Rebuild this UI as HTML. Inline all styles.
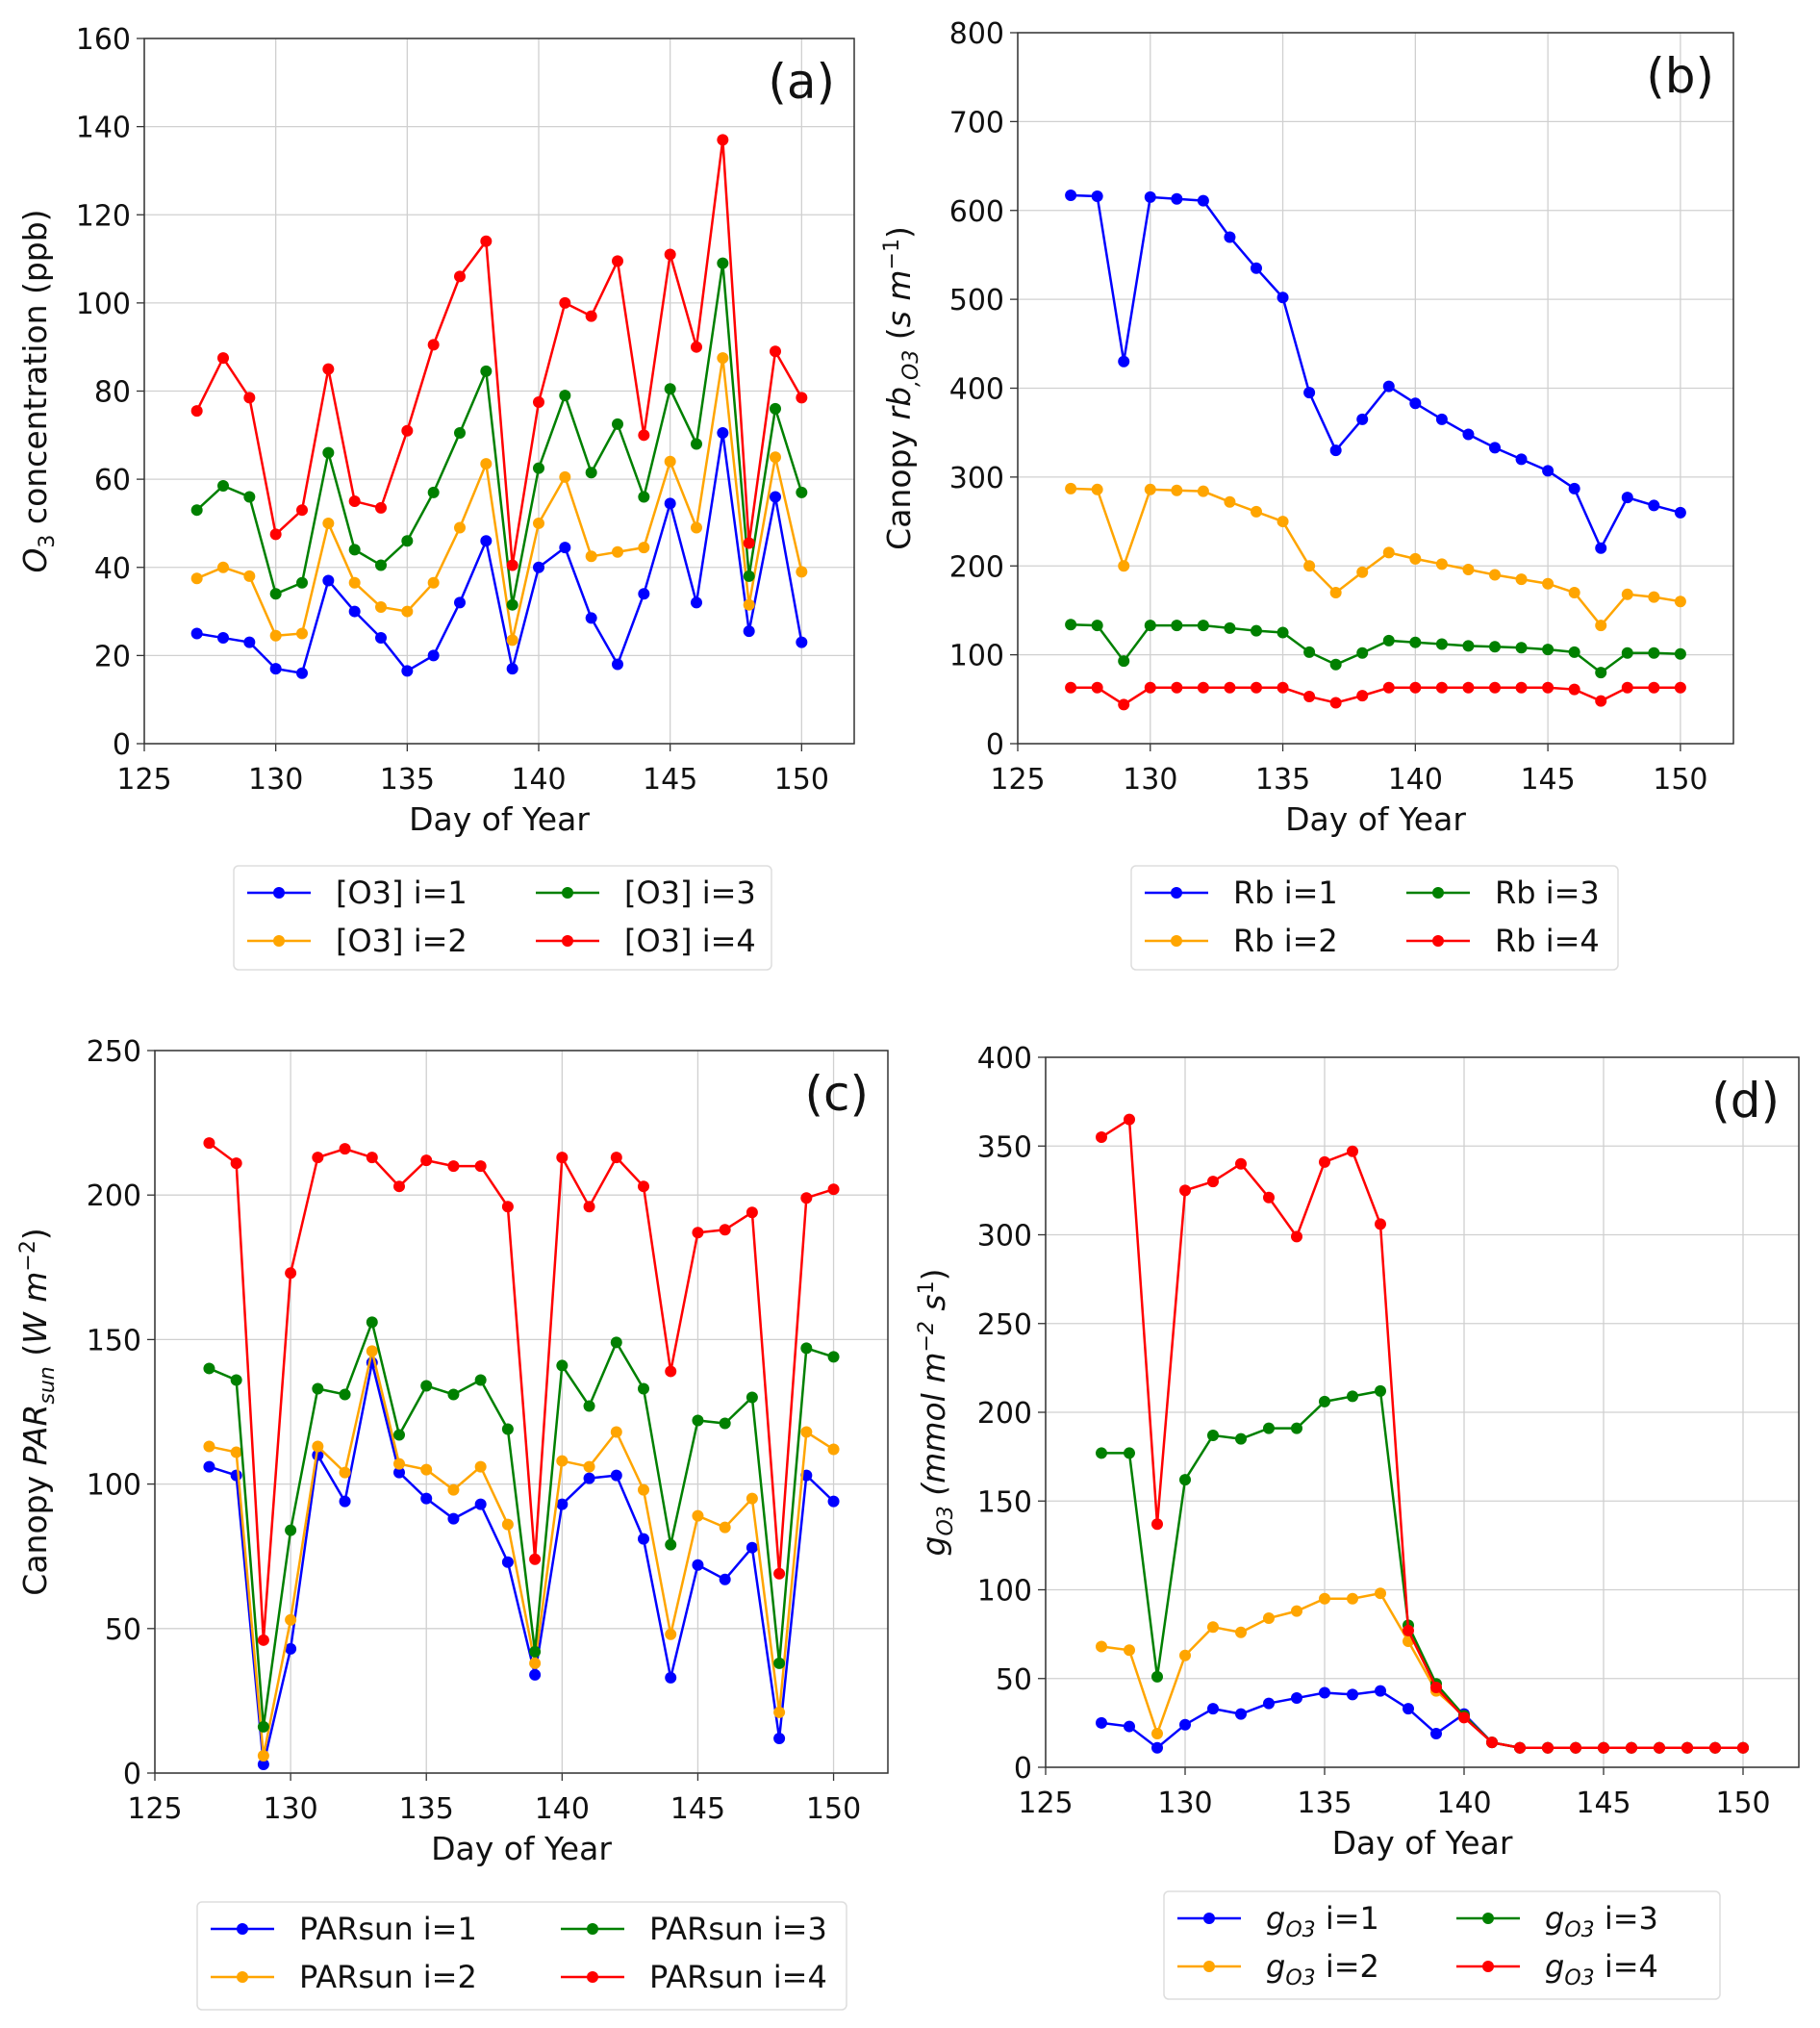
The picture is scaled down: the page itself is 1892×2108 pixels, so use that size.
<!DOCTYPE html>
<html><head><meta charset="utf-8">
<style>
html,body{margin:0;padding:0;background:#fff;}
svg{display:block;font-family:"DejaVu Sans","Liberation Sans",sans-serif;}
</style></head>
<body>
<svg id="fig" width="1892" height="2108" viewBox="0 0 1892 2108" xmlns="http://www.w3.org/2000/svg"></svg>
<script>
const days = [127,128,129,130,131,132,133,134,135,136,137,138,139,140,141,142,143,144,145,146,147,148,149,150];
const xTicks = [125,130,135,140,145,150];
const seriesColors = ['#0000ff','#ffa500','#008000','#ff0000'];

const o3_i1 = [25,24,23,17,16,37,30,24,16.5,20,32,46,17,40,44.5,28.5,18,34,54.5,32,70.5,25.5,56,23];
const o3_i2 = [37.5,40,38,24.5,25,50,36.5,31,30,36.5,49,63.5,23.5,50,60.5,42.5,43.5,44.5,64,49,87.5,31.5,65,39];
const o3_i3 = [53,58.5,56,34,36.5,66,44,40.5,46,57,70.5,84.5,31.5,62.5,79,61.5,72.5,56,80.5,68,109,38,76,57];
const o3_i4 = [75.5,87.5,78.5,47.5,53,85,55,53.5,71,90.5,106,114,40.5,77.5,100,97,109.5,70,111,90,137,45.5,89,78.5];
const o3Ticks = [0,20,40,60,80,100,120,140,160];

const rb_i1 = [617,616,430,615,613,611,570,535,502,395,330,365,402,383,365,348,333,320,307,287,220,277,268,260];
const rb_i2 = [287,286,200,286,285,284,272,261,250,200,170,193,215,208,202,196,190,185,180,170,133,168,165,160];
const rb_i3 = [134,133,93,133,133,133,130,127,125,103,89,102,116,114,112,110,109,108,106,103,80,102,102,101];
const rb_i4 = [63,63,44,63,63,63,63,63,63,53,46,54,63,63,63,63,63,63,63,61,48,63,63,63];
const rbTicks = [0,100,200,300,400,500,600,700,800];

const par_i1 = [106,103,3,43,110,94,142,104,95,88,93,73,34,93,102,103,81,33,72,67,78,12,103,94];
const par_i2 = [113,111,6,53,113,104,146,107,105,98,106,86,38,108,106,118,98,48,89,85,95,21,118,112];
const par_i3 = [140,136,16,84,133,131,156,117,134,131,136,119,42,141,127,149,133,79,122,121,130,38,147,144];
const par_i4 = [218,211,46,173,213,216,213,203,212,210,210,196,74,213,196,213,203,139,187,188,194,69,199,202];
const parTicks = [0,50,100,150,200,250];

const g_i1 = [25,23,11,24,33,30,36,39,42,41,43,33,19,30,14,11,11,11,11,11,11,11,11,11];
const g_i2 = [68,66,19,63,79,76,84,88,95,95,98,71,43,29,14,11,11,11,11,11,11,11,11,11];
const g_i3 = [177,177,51,162,187,185,191,191,206,209,212,80,47,29,14,11,11,11,11,11,11,11,11,11];
const g_i4 = [355,365,137,325,330,340,321,299,341,347,306,77,45,28,14,11,11,11,11,11,11,11,11,11];
const gTicks = [0,50,100,150,200,250,300,350,400];

const NS='http://www.w3.org/2000/svg';
const svg=document.getElementById('fig');
function mk(tag,attrs,parent){const e=document.createElementNS(NS,tag);for(const k in attrs)e.setAttribute(k,attrs[k]);(parent||svg).appendChild(e);return e;}

function panel(p){
  const g=mk('g',{});
  
  
  const xs=v=>p.L+(v-125)/(152-125)*(p.R-p.L);
  const ys=v=>p.B-(v-p.yt[0])/(p.yt[p.yt.length-1]-p.yt[0])*(p.B-p.T);
  // grid
  xTicks.forEach(t=>{const l=mk('line',{x1:xs(t),x2:xs(t),y1:p.T,y2:p.B,stroke:'#d0d0d0','stroke-width':1.3},g);
    
    mk('line',{x1:xs(t),x2:xs(t),y1:p.B,y2:p.B+8,stroke:'#333','stroke-width':1.3},g);
    const tx=mk('text',{x:xs(t),y:p.B+47,'font-size':30,'text-anchor':'middle',fill:'#111'},g);tx.textContent=t;
    });
  p.yt.forEach(t=>{const l=mk('line',{x1:p.L,x2:p.R,y1:ys(t),y2:ys(t),stroke:'#d0d0d0','stroke-width':1.3},g);
    
    mk('line',{x1:p.L-8,x2:p.L,y1:ys(t),y2:ys(t),stroke:'#333','stroke-width':1.3},g);
    const tx=mk('text',{x:p.L-14,y:ys(t)+11,'font-size':30,'text-anchor':'end',fill:'#111'},g);tx.textContent=t;
    });
  const fr=mk('rect',{x:p.L,y:p.T,width:p.R-p.L,height:p.B-p.T,fill:'none',stroke:'#333','stroke-width':1.5},g);
  
  p.series.forEach((s,i)=>{
    const pts=days.map((d,j)=>xs(d)+','+ys(s[j])).join(' ');
    const pl=mk('polyline',{points:pts,fill:'none',stroke:seriesColors[i],'stroke-width':2.5},g);
    
    days.forEach((d,j)=>{const c=mk('circle',{cx:xs(d),cy:ys(s[j]),r:6,fill:seriesColors[i]},g);
      });
  });
  const xl=mk('text',{x:(p.L+p.R)/2,y:p.B+90,'font-size':33,'text-anchor':'middle',fill:'#111'},g);
  xl.textContent='Day of Year';
  const yl=mk('text',{x:0,y:0,'font-size':33,'text-anchor':'middle',fill:'#111',transform:`translate(${p.ylx},${(p.T+p.B)/2}) rotate(-90)`},g);
  yl.innerHTML=p.ylabel;
  const pl=mk('text',{x:p.R-20,y:p.T+62,'font-size':50,'text-anchor':'end',fill:'#111'},g);
  pl.textContent=p.tag;
  // legend
  const lg=p.leg;
  const box=mk('rect',{x:lg.x,y:lg.y,width:lg.w,height:lg.h,fill:'#fff',stroke:'#ddd','stroke-width':1.5,rx:5},g);
  
  [0,1,2,3].forEach(i=>{
    const col=i<2?0:1,row=i%2;
    const lx=lg.x+14+col*lg.colw, ly=lg.y+28+row*50;
    const e=mk('g',{},g);
    mk('line',{x1:lx,x2:lx+66,y1:ly,y2:ly,stroke:seriesColors[i],'stroke-width':2.5},e);
    mk('circle',{cx:lx+33,cy:ly,r:6,fill:seriesColors[i]},e);
    const t=mk('text',{x:lx+92,y:ly+11,'font-size':32,fill:'#111'},e);
    t.innerHTML=lg.label(i+1);
  });
}

panel({name:'panel-a-o3',L:150,R:888,T:40,B:773,yt:o3Ticks,series:[o3_i1,o3_i2,o3_i3,o3_i4],tag:'(a)',ylx:48,
  ylabel:'<tspan font-style="italic">O</tspan><tspan font-size="22" dy="8">3</tspan><tspan dy="-8"> concentration (ppb)</tspan>',
  leg:{x:243,y:900,w:559,h:108,colw:300,label:n=>'[O3] i='+n}});
panel({name:'panel-b-rb',L:1058,R:1802,T:34,B:773,yt:rbTicks,series:[rb_i1,rb_i2,rb_i3,rb_i4],tag:'(b)',ylx:946,
  ylabel:'Canopy <tspan font-style="italic">rb</tspan><tspan font-size="22" dy="8" font-style="italic">,O3</tspan><tspan dy="-8"> (</tspan><tspan font-style="italic">s m</tspan><tspan font-size="22" dy="-12">−1</tspan><tspan dy="12">)</tspan>',
  leg:{x:1176,y:900,w:506,h:108,colw:272,label:n=>'Rb i='+n}});
panel({name:'panel-c-parsun',L:161,R:923,T:1092,B:1843,yt:parTicks,series:[par_i1,par_i2,par_i3,par_i4],tag:'(c)',ylx:48,
  ylabel:'Canopy <tspan font-style="italic">PAR</tspan><tspan font-size="22" dy="8" font-style="italic">sun</tspan><tspan dy="-8"> (</tspan><tspan font-style="italic">W m</tspan><tspan font-size="22" dy="-12">−2</tspan><tspan dy="12">)</tspan>',
  leg:{x:205,y:1977,w:675,h:112,colw:364,label:n=>'PARsun i='+n}});
panel({name:'panel-d-go3',L:1087,R:1870,T:1099,B:1837,yt:gTicks,series:[g_i1,g_i2,g_i3,g_i4],tag:'(d)',ylx:982,
  ylabel:'<tspan font-style="italic">g</tspan><tspan font-size="22" dy="8" font-style="italic">O3</tspan><tspan dy="-8" font-style="italic"> (mmol m</tspan><tspan font-size="22" dy="-12" font-style="italic">−2</tspan><tspan dy="12" font-style="italic"> s</tspan><tspan font-size="22" dy="-12">1</tspan><tspan dy="12">)</tspan>',
  leg:{x:1210,y:1966,w:578,h:112,colw:290,label:n=>'<tspan font-style="italic">g</tspan><tspan font-size="22" dy="8" font-style="italic">O3</tspan><tspan dy="-8"> i='+n+'</tspan>'}});
</script>
</body></html>
